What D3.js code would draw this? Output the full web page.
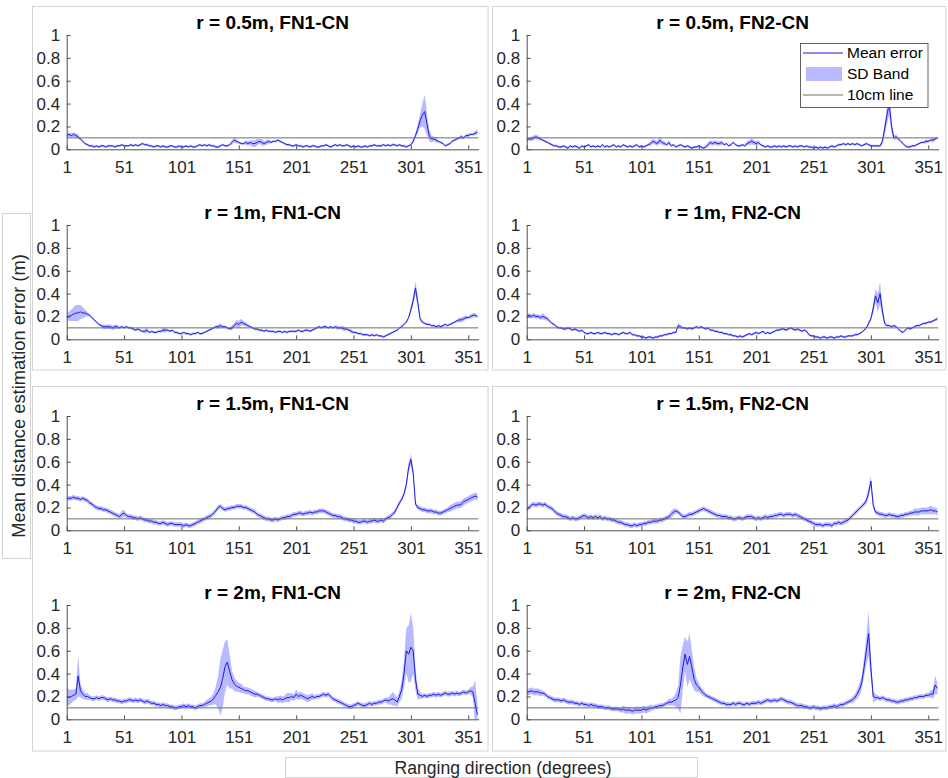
<!DOCTYPE html>
<html>
<head>
<meta charset="utf-8">
<script src="https://cdn.jsdelivr.net/npm/d3@7"></script>
<style>
  html, body { margin: 0; padding: 0; background: #ffffff; }
  svg { display: block; font-family: "Liberation Sans", Arial, Helvetica, sans-serif; }
</style>
</head>
<body>
<svg id="fig" width="948" height="778"></svg>
<script>
// Ranging directions, sampled every 2 degrees (1, 3, ..., 359)
const directions = d3.range(1, 360, 2);
const xTicks = [1, 51, 101, 151, 201, 251, 301, 351];
const yTicks = [0, 0.2, 0.4, 0.6, 0.8, 1];
const yTickLabels = ["0", "0.2", "0.4", "0.6", "0.8", "1"];
const thresholdM = 0.1;

const panelTitles = [
  "r = 0.5m, FN1-CN", "r = 0.5m, FN2-CN",
  "r = 1m, FN1-CN",   "r = 1m, FN2-CN",
  "r = 1.5m, FN1-CN", "r = 1.5m, FN2-CN",
  "r = 2m, FN1-CN",   "r = 2m, FN2-CN"
];

// Mean distance estimation error per direction (cm)
const meanR05FN1 = [
  12,13,12,13,12,11,9,7,5,4,
  3,3,2,3,2,3,3,2,3,3,
  3,2,3,3,4,3,3,3,4,3,
  4,3,4,5,4,4,3,3,2,3,
  3,2,3,2,2,3,3,2,2,3,
  2,2,3,2,3,2,2,3,4,3,
  4,3,4,3,3,2,2,3,4,3,
  3,4,6,8,7,6,5,5,6,5,
  6,5,5,6,7,6,5,6,7,6,
  7,7,8,7,6,5,4,4,3,3,
  4,3,3,2,3,3,2,3,3,2,
  2,3,3,4,3,2,3,4,3,4,
  3,3,4,3,2,3,2,3,2,2,
  3,2,3,3,4,3,3,3,4,3,
  4,3,4,4,3,4,3,3,2,3,
  4,7,12,18,25,30,33,22,12,9,
  9,8,7,6,5,3,4,5,7,8,
  9,10,11,10,12,12,13,13,14,15
];
const meanR05FN2 = [
  8,9,9,10,11,10,9,8,7,6,
  5,4,3,3,2,2,3,2,1,3,
  2,3,2,1,3,2,3,4,2,3,
  2,3,2,4,2,3,2,3,4,2,
  3,2,4,3,2,3,2,3,4,2,
  3,2,3,4,5,7,6,5,8,6,
  5,4,6,3,4,2,3,4,3,2,
  3,2,1,2,2,3,2,1,2,4,
  6,5,6,5,5,6,4,5,3,4,
  6,4,3,3,4,3,5,6,7,6,
  5,6,4,3,2,3,2,2,3,2,
  3,2,3,2,3,3,2,3,2,3,
  3,2,3,2,2,1,2,1,2,1,
  2,1,2,3,2,3,4,4,5,4,
  5,4,5,4,5,4,3,4,5,4,
  3,3,3,3,3,7,18,30,40,20,
  10,11,9,7,5,3,2,2,3,3,
  4,5,6,6,7,7,8,8,9,10
];
const meanR1FN1 = [
  20,20,21,22,23,23,24,23,23,22,
  21,19,17,15,13,12,11,11,11,11,
  10,11,11,10,11,10,11,10,10,9,
  8,9,8,7,7,8,6,7,6,6,
  7,7,8,8,8,7,8,6,6,5,
  5,6,5,5,4,5,5,6,5,5,
  6,7,8,9,10,11,11,12,11,11,
  10,9,10,12,14,13,15,14,13,12,
  11,10,9,9,8,8,7,8,7,7,
  7,6,7,7,6,7,6,7,7,7,
  7,8,7,7,8,8,7,8,9,10,
  11,10,11,11,10,11,10,11,10,10,
  10,9,9,8,7,6,6,5,5,4,
  4,4,3,4,3,4,3,3,2,3,
  4,5,6,7,8,10,11,13,15,19,
  26,34,45,32,18,15,14,13,13,12,
  12,11,12,11,12,13,12,13,14,15,
  16,17,17,18,19,19,20,21,21,20
];
const meanR1FN2 = [
  20,21,20,21,20,20,19,20,19,18,
  16,14,13,11,10,10,9,9,10,9,
  8,9,8,7,8,6,5,5,6,5,
  5,6,5,5,6,5,5,4,5,5,
  4,5,6,5,5,6,4,4,3,3,
  2,2,1,2,2,1,2,2,3,3,
  4,4,5,5,6,6,12,11,10,10,
  9,10,9,10,11,10,11,10,9,10,
  8,8,7,7,6,6,5,5,4,4,
  3,3,2,3,2,3,4,5,4,5,
  6,5,6,7,5,6,5,6,7,8,
  8,9,9,8,9,10,9,8,9,8,
  7,8,7,4,3,3,2,2,1,2,
  2,1,2,2,1,2,2,3,2,2,
  3,3,3,4,4,5,6,8,10,14,
  18,27,38,32,40,25,14,12,12,11,
  12,11,9,7,6,8,10,9,10,11,
  12,12,13,14,14,15,15,16,17,18
];
const meanR15FN1 = [
  28,28,28,29,28,28,27,28,27,26,
  24,23,21,20,19,19,18,18,17,16,
  15,14,13,12,14,15,13,12,12,11,
  11,10,11,10,9,9,8,8,7,7,
  6,6,7,6,5,6,6,5,5,5,
  5,4,5,4,4,5,6,7,8,9,
  10,11,12,13,15,17,20,21,19,18,
  19,19,20,20,21,21,21,20,20,19,
  18,17,16,14,13,12,11,10,10,9,
  9,10,9,10,11,11,12,12,13,14,
  14,15,15,14,15,15,16,15,16,16,
  17,17,17,16,15,14,13,13,12,12,
  11,10,10,9,9,8,8,7,7,8,
  8,7,8,8,9,8,8,9,8,10,
  11,12,14,16,20,24,27,32,40,55,
  62,50,23,20,19,18,18,17,17,17,
  16,16,15,15,16,17,18,19,20,21,
  22,22,23,25,26,27,28,29,30,29
];
const meanR15FN2 = [
  18,20,22,23,22,23,23,22,23,21,
  20,19,17,15,14,13,12,12,11,10,
  11,10,10,11,12,13,12,11,12,11,
  12,11,12,10,11,10,10,9,9,8,
  7,7,6,5,5,4,4,5,4,5,
  5,6,6,7,7,8,8,8,9,9,
  10,11,12,14,16,17,16,14,12,12,
  13,14,14,15,16,17,18,19,18,17,
  16,15,14,13,13,12,12,12,11,11,
  10,10,11,11,10,11,12,12,12,11,
  10,11,10,11,12,11,12,12,13,13,
  14,14,13,14,14,14,13,14,13,12,
  11,10,9,8,7,6,5,5,5,4,
  5,5,5,4,6,6,7,6,7,8,
  9,11,13,15,17,19,21,23,26,33,
  43,22,16,15,14,14,13,13,14,13,
  13,12,12,13,13,14,14,15,15,16,
  16,16,17,17,17,17,18,17,17,16
];
const meanR2FN1 = [
  20,19,20,21,22,38,25,22,20,20,
  19,18,18,19,18,19,19,18,17,18,
  17,17,16,16,15,16,16,17,17,16,
  17,16,17,16,15,16,15,14,14,13,
  13,12,13,12,12,11,11,10,10,11,
  11,12,11,12,11,11,10,11,12,12,
  13,14,15,16,18,21,24,28,36,46,
  50,42,35,31,29,28,27,26,25,25,
  24,23,22,22,21,20,19,18,18,17,
  17,18,17,18,17,18,19,19,20,19,
  22,20,21,20,19,18,19,20,19,20,
  20,21,22,21,22,20,18,17,16,15,
  14,13,12,11,11,12,13,14,13,12,
  12,13,14,13,14,14,15,15,16,17,
  16,17,18,17,15,20,26,40,60,57,
  63,60,35,22,21,20,21,20,21,21,
  22,21,22,21,22,23,22,22,23,22,
  23,22,23,24,23,24,25,24,14,4
];
const meanR2FN2 = [
  24,24,25,24,24,24,23,23,22,20,
  19,18,17,17,17,16,17,16,15,15,
  15,14,14,13,14,13,13,12,13,12,
  12,11,11,11,10,10,10,9,9,9,
  9,8,9,8,8,8,7,8,8,8,
  8,9,8,9,10,10,11,11,12,12,
  13,14,15,15,16,17,19,30,45,57,
  48,55,45,35,30,28,25,23,21,20,
  19,18,17,16,15,14,14,13,13,13,
  14,13,14,14,13,13,14,13,14,14,
  14,15,14,15,16,17,16,16,17,16,
  17,18,17,16,15,15,14,13,12,12,
  12,11,11,10,10,11,10,10,9,10,
  10,10,11,11,12,11,12,13,13,14,
  15,16,17,19,22,26,32,45,60,75,
  45,20,19,19,18,19,18,17,17,16,
  16,15,15,16,16,17,17,18,18,19,
  19,20,20,20,21,21,22,22,30,27
];

// Standard deviation of the error per direction (cm)
const sdR05FN1 = [
  2,2,2,2,2,2,1,1,1,1,
  1,1,1,1,1,1,1,1,1,1,
  1,1,1,1,1,1,1,1,1,1,
  1,1,1,1,1,1,1,1,1,1,
  1,1,1,1,1,1,1,1,1,1,
  1,1,1,1,1,1,1,1,1,1,
  1,1,1,1,1,1,1,1,1,1,
  1,1,2,2,2,1,1,1,2,2,
  2,3,3,3,2,3,2,2,2,1,
  1,1,1,1,1,1,1,1,1,1,
  1,1,1,1,1,1,1,1,1,1,
  1,1,1,1,1,1,1,1,1,1,
  1,1,1,1,1,1,1,1,1,1,
  1,1,1,1,1,1,1,1,1,1,
  1,1,1,1,1,1,1,1,1,1,
  1,2,2,4,6,10,15,10,5,3,
  2,2,1,1,1,1,1,1,1,1,
  1,1,2,1,1,2,1,1,2,2
];
const sdR05FN2 = [
  1,1,2,2,2,2,1,1,1,1,
  1,1,1,1,1,1,1,1,1,1,
  1,1,1,1,1,1,1,1,1,1,
  1,1,1,1,1,1,1,1,1,1,
  1,1,1,1,1,1,1,1,1,1,
  1,1,1,1,2,2,2,2,3,2,
  2,1,2,1,1,1,1,1,1,1,
  1,1,1,1,1,1,1,1,1,2,
  2,2,2,2,2,2,1,1,1,1,
  1,1,1,1,1,1,2,2,3,2,
  2,2,1,1,1,1,1,1,1,1,
  1,1,1,1,1,1,1,1,1,1,
  1,1,1,1,1,1,1,1,1,1,
  1,1,1,1,1,1,1,1,1,1,
  1,1,1,1,1,1,1,1,1,1,
  1,1,1,1,1,3,5,8,10,6,
  2,2,1,1,1,1,1,1,1,1,
  1,1,1,1,2,1,1,2,1,1
];
const sdR1FN1 = [
  3,4,5,6,7,7,6,5,3,2,
  1,1,1,1,1,1,2,2,2,2,
  2,2,2,1,1,1,1,1,1,1,
  1,1,1,1,2,2,1,1,1,1,
  1,1,2,2,1,1,1,1,1,1,
  1,1,1,1,1,1,1,1,1,1,
  1,1,1,1,1,1,2,2,1,1,
  1,1,2,2,3,3,3,2,2,1,
  1,1,1,1,1,1,1,1,1,1,
  1,1,1,1,1,1,1,1,1,1,
  1,1,1,1,1,1,1,1,1,1,
  1,1,1,1,1,1,1,1,2,1,
  2,2,1,1,2,1,1,1,1,1,
  1,1,1,1,1,1,1,1,1,1,
  1,1,1,1,1,1,1,1,1,1,
  3,4,6,4,2,1,1,1,1,1,
  1,1,1,1,1,1,1,1,1,1,
  1,2,2,2,2,1,2,2,2,1
];
const sdR1FN2 = [
  2,2,2,2,2,2,2,3,2,2,
  1,1,1,1,1,1,1,1,1,1,
  1,1,1,1,1,1,1,1,1,1,
  1,1,1,1,1,1,1,1,1,1,
  1,1,1,1,1,1,1,1,1,1,
  1,1,1,1,1,1,1,1,1,1,
  1,1,1,1,1,1,2,2,1,1,
  1,1,1,1,1,1,1,1,1,1,
  1,1,1,1,1,1,1,1,1,1,
  1,1,1,1,1,1,1,1,1,1,
  1,1,1,1,1,1,1,1,1,1,
  1,1,1,1,1,1,1,1,1,1,
  1,1,1,1,1,1,1,1,1,1,
  1,1,1,1,1,1,1,1,1,1,
  1,1,1,1,1,1,1,1,1,2,
  2,4,6,8,10,5,2,1,1,1,
  1,1,1,1,1,1,1,1,1,1,
  1,1,1,1,1,1,1,1,1,2
];
const sdR15FN1 = [
  2,2,2,2,2,2,2,2,2,2,
  2,2,2,2,2,2,2,2,2,2,
  2,2,2,2,3,3,2,2,2,2,
  2,2,2,2,2,2,2,2,2,2,
  2,2,2,2,2,2,2,2,2,2,
  2,2,2,2,2,2,2,2,2,2,
  2,2,2,2,2,2,2,2,2,2,
  2,2,2,2,2,2,2,2,2,2,
  2,2,2,2,2,2,2,2,2,2,
  2,2,2,2,2,2,2,2,2,2,
  2,2,2,2,2,2,2,2,2,2,
  2,2,2,2,2,2,2,2,2,2,
  2,2,2,2,2,2,2,2,2,2,
  2,2,2,2,2,2,2,2,2,2,
  2,2,2,2,2,2,2,2,3,4,
  5,4,2,2,2,2,2,2,2,2,
  2,2,2,2,2,2,2,3,3,3,
  3,3,3,3,3,3,3,3,3,3
];
const sdR15FN2 = [
  2,2,2,2,2,2,2,2,2,2,
  2,2,2,2,2,2,2,2,2,2,
  2,2,2,2,2,2,2,2,2,2,
  2,2,2,2,2,2,2,2,2,2,
  2,2,2,2,2,2,2,2,2,2,
  2,2,2,2,2,2,2,2,2,2,
  2,2,2,3,3,2,2,2,2,2,
  2,2,2,2,2,2,2,2,2,2,
  2,2,2,2,2,2,2,2,2,2,
  2,2,2,2,2,2,2,2,2,2,
  2,2,2,2,2,2,2,2,2,2,
  2,2,2,2,2,2,2,2,2,2,
  2,2,2,2,2,2,2,2,2,2,
  2,2,2,2,2,2,2,2,2,2,
  2,2,2,2,2,2,2,2,3,4,
  5,3,2,2,2,2,2,2,2,2,
  2,2,2,2,2,2,2,2,2,3,
  3,3,3,3,3,3,4,3,3,3
];
const sdR2FN1 = [
  8,7,6,5,5,18,6,4,3,3,
  2,2,2,2,2,2,2,2,2,2,
  2,2,2,2,2,2,2,2,2,2,
  2,2,2,2,2,2,2,2,2,2,
  2,2,2,2,2,2,2,2,2,2,
  2,2,2,2,2,2,2,2,2,2,
  2,3,3,4,5,8,15,25,25,22,
  20,15,8,6,5,4,4,3,3,3,
  3,3,3,2,2,2,2,2,2,2,
  2,2,3,3,3,3,4,4,3,3,
  4,3,3,3,3,3,3,3,2,2,
  2,2,2,2,2,2,2,2,2,2,
  2,2,2,2,2,2,2,2,2,2,
  2,2,2,2,2,2,2,2,2,2,
  3,4,6,5,4,5,8,12,20,25,
  30,20,10,5,3,2,2,2,2,2,
  2,2,2,2,2,2,2,2,2,2,
  2,2,2,2,2,2,3,5,20,10
];
const sdR2FN2 = [
  3,3,3,3,3,3,3,2,2,2,
  2,2,2,2,2,2,2,2,2,2,
  2,2,2,2,2,2,2,2,2,2,
  2,2,2,2,2,2,2,2,2,2,
  2,2,3,3,3,3,3,3,3,3,
  3,3,3,3,3,2,2,2,2,2,
  2,2,3,3,4,6,10,25,20,15,
  20,20,15,10,6,4,3,3,2,2,
  2,2,2,2,2,2,2,2,2,2,
  2,2,2,2,2,2,2,2,2,2,
  2,2,2,2,2,2,2,2,2,2,
  2,2,2,2,2,2,2,2,2,2,
  2,2,2,2,2,2,2,2,2,2,
  2,2,2,2,2,2,2,2,2,2,
  2,2,3,3,4,5,6,8,12,20,
  10,5,3,2,2,2,2,2,2,2,
  2,2,2,2,2,2,2,2,2,2,
  2,2,2,2,2,2,3,4,8,5
];

const meanSeries = [meanR05FN1, meanR05FN2, meanR1FN1, meanR1FN2,
                    meanR15FN1, meanR15FN2, meanR2FN1, meanR2FN2];
const sdSeries = [sdR05FN1, sdR05FN2, sdR1FN1, sdR1FN2,
                  sdR15FN1, sdR15FN2, sdR2FN1, sdR2FN2];

// ---------- layout ----------
const W = 948, H = 778;
const colPlotLeft = [66.7, 526.7];
const plotW = 411.9;
const rowPlotTop = [35, 225, 416, 605];
const plotH = 114.3;

const lineColor = "#1a1ae6";
const bandColor = "rgb(100,100,255)";
const bandOpacity = 0.45;
const refColor = "#6e6e6e";
const axisColor = "#505050";
const textColor = "#262626";
const frameColor = "#d4d4d4";

const svg = d3.select("#fig");
svg.append("rect").attr("width", W).attr("height", H).attr("fill", "#ffffff");

// Light frames around each column of panels and around the shared labels
const frames = [
  [32.5, 6.5, 455.5, 363.5], [492.5, 6.5, 453.5, 363.5],
  [32.5, 386.5, 455.5, 364.5], [492.5, 386.5, 453.5, 364.5]
];
svg.append("g").selectAll("rect").data(frames).join("rect")
  .attr("x", d => d[0]).attr("y", d => d[1])
  .attr("width", d => d[2]).attr("height", d => d[3])
  .attr("fill", "none").attr("stroke", frameColor).attr("stroke-width", 1);

svg.append("rect").attr("x", 2.5).attr("y", 213.5).attr("width", 28).attr("height", 345)
  .attr("fill", "none").attr("stroke", frameColor);
svg.append("rect").attr("x", 285.5).attr("y", 757.5).attr("width", 412).attr("height", 20)
  .attr("fill", "none").attr("stroke", frameColor);

svg.append("text")
  .attr("transform", "translate(25,396) rotate(-90)")
  .attr("text-anchor", "middle")
  .attr("font-size", 18.3)
  .attr("fill", textColor)
  .text("Mean distance estimation error (m)");

svg.append("text")
  .attr("x", 503).attr("y", 773.5)
  .attr("text-anchor", "middle")
  .attr("font-size", 17.6)
  .attr("fill", textColor)
  .text("Ranging direction (degrees)");

const defs = svg.append("defs");

meanSeries.forEach((meanCm, k) => {
  const col = k % 2, row = Math.floor(k / 2);
  const sdCm = sdSeries[k];
  const x = d3.scaleLinear().domain([1, 360]).range([colPlotLeft[col], colPlotLeft[col] + plotW]);
  const y = d3.scaleLinear().domain([0, 1]).range([rowPlotTop[row] + plotH, rowPlotTop[row]]);

  const clipId = "clip" + k;
  defs.append("clipPath").attr("id", clipId)
    .append("rect")
    .attr("x", x.range()[0]).attr("y", y(1))
    .attr("width", x.range()[1] - x.range()[0]).attr("height", y(0) - y(1));

  const rows = directions.map((deg, i) => ({
    deg, mean: meanCm[i] / 100, sd: sdCm[i] / 100
  }));

  const g = svg.append("g");
  const plot = g.append("g").attr("clip-path", `url(#${clipId})`);

  // SD band
  plot.append("path")
    .datum(rows)
    .attr("fill", bandColor).attr("fill-opacity", bandOpacity)
    .attr("stroke", "none")
    .attr("d", d3.area()
      .x(d => x(d.deg))
      .y0(d => y(d.mean - d.sd))
      .y1(d => y(d.mean + d.sd)));

  // Mean error line
  plot.append("path")
    .datum(rows)
    .attr("fill", "none").attr("stroke", lineColor).attr("stroke-width", 1)
    .attr("stroke-linejoin", "round")
    .attr("d", d3.line().x(d => x(d.deg)).y(d => y(d.mean)));

  // 10 cm reference line
  plot.append("line")
    .attr("x1", x(1)).attr("x2", x(360))
    .attr("y1", y(thresholdM)).attr("y2", y(thresholdM))
    .attr("stroke", refColor).attr("stroke-width", 1);

  // Axes (ticks point inward)
  const yAxis = d3.axisLeft(y).tickValues(yTicks)
    .tickFormat((d, i) => yTickLabels[i])
    .tickSizeInner(-4).tickSizeOuter(0).tickPadding(6.5);
  const xAxis = d3.axisBottom(x).tickValues(xTicks)
    .tickFormat(d3.format("d"))
    .tickSizeInner(-4).tickSizeOuter(0).tickPadding(12);

  const ya = g.append("g").attr("transform", `translate(${x(1)},0)`).call(yAxis);
  const xa = g.append("g").attr("transform", `translate(0,${y(0)})`).call(xAxis);
  [ya, xa].forEach(a => {
    a.select(".domain").attr("stroke", axisColor);
    a.selectAll(".tick line").attr("stroke", axisColor);
    a.selectAll(".tick text").attr("fill", textColor)
      .attr("font-size", 17)
      .attr("font-family", "'Liberation Sans', Arial, Helvetica, sans-serif");
  });

  // Panel title
  g.append("text")
    .attr("x", (x.range()[0] + x.range()[1]) / 2)
    .attr("y", y(1) - 6.5)
    .attr("text-anchor", "middle")
    .attr("font-size", 19).attr("font-weight", "bold")
    .attr("fill", "#000000")
    .text(panelTitles[k]);

  // Legend in the upper-right panel
  if (k === 1) {
    const lg = g.append("g");
    lg.append("rect").attr("x", 800.5).attr("y", 43.5).attr("width", 127.5).attr("height", 64)
      .attr("fill", "#ffffff").attr("stroke", "#3c3c3c").attr("stroke-width", 0.8);
    const items = [
      { label: "Mean error", type: "line", color: lineColor },
      { label: "SD Band", type: "band", color: bandColor },
      { label: "10cm line", type: "line", color: refColor }
    ];
    items.forEach((it, j) => {
      const cy = 53 + j * 21;
      if (it.type === "line") {
        lg.append("line").attr("x1", 803).attr("x2", 843).attr("y1", cy).attr("y2", cy)
          .attr("stroke", it.color).attr("stroke-width", 1);
      } else {
        lg.append("rect").attr("x", 806).attr("y", cy - 7).attr("width", 36).attr("height", 14)
          .attr("fill", it.color).attr("fill-opacity", bandOpacity);
      }
      lg.append("text").attr("x", 847).attr("y", cy).attr("dy", "0.35em")
        .attr("font-size", 15.5).attr("fill", "#000000").text(it.label);
    });
  }
});
</script>
</body>
</html>
